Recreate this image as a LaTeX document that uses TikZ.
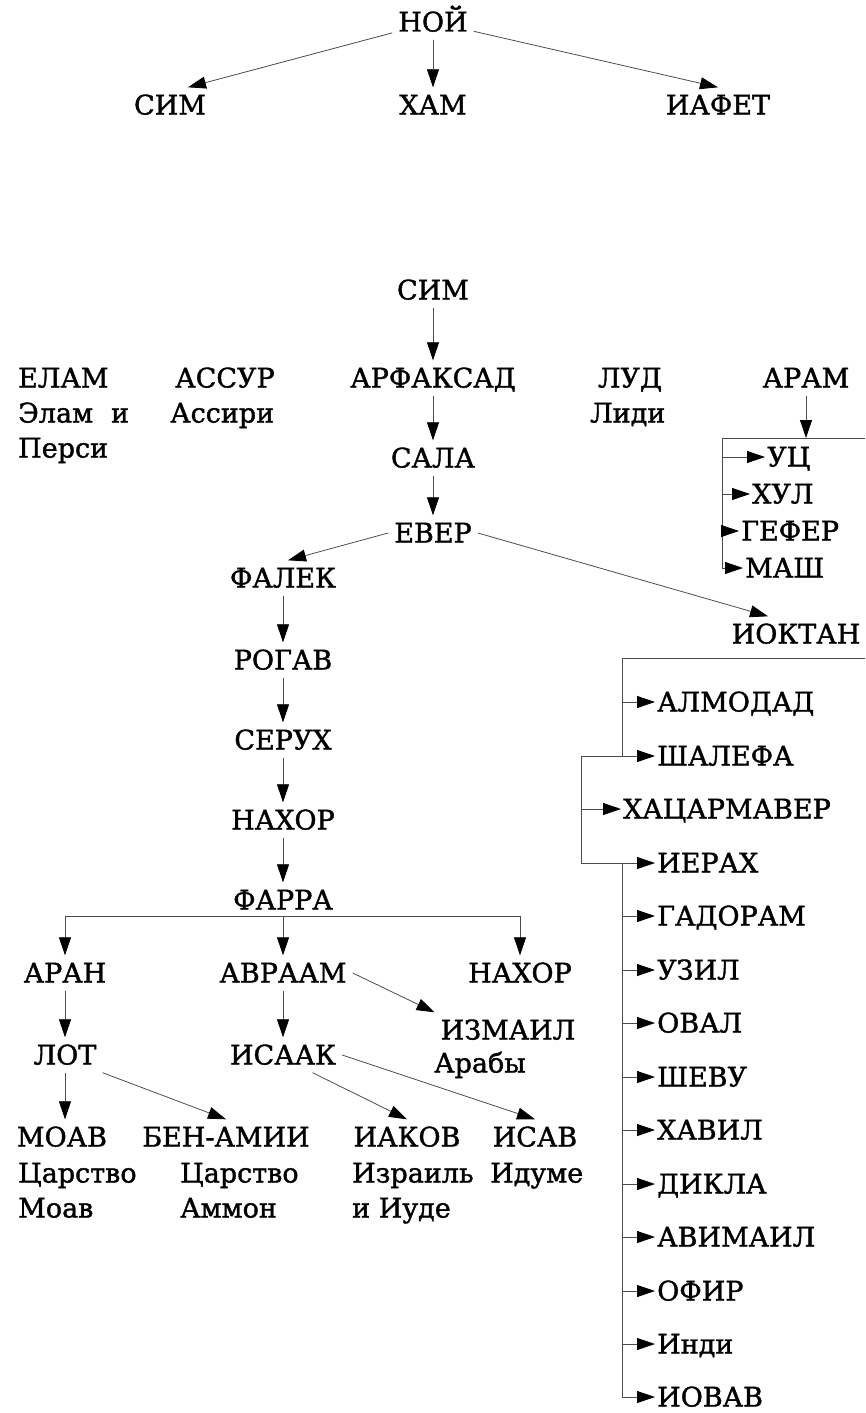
\documentclass[tikz,border=0pt]{standalone}
\usepackage{fontspec}
\setmainfont{DejaVu Serif}
\newfontfamily\treefont{DejaVu Serif}[FakeBold=1.4]
\usetikzlibrary{arrows.meta, calc}

\begin{document}
\begin{tikzpicture}[x=1pt, y=-1pt, line join=round,
    font=\treefont\fontsize{27}{32}\selectfont,
    nm/.style={inner xsep=6pt, inner ysep=7pt, text height=20pt, text depth=1pt},
    sub/.style={anchor=west, inner sep=0pt, text height=20pt, text depth=5pt},
    kid/.style={anchor=west, inner xsep=2pt, inner ysep=0pt, text height=20pt, text depth=1pt},
    ln/.style={line width=0.8pt, draw=black!70},
    arr/.style={ln, -{Triangle[length=18pt, width=12pt, color=black]}}]

    \useasboundingbox (0,0) rectangle (865,1413);

    % ==========================================
    % NOAH AND HIS SONS
    % ==========================================
    \node[nm] (noi) at (433,22) {НОЙ};
    \node[nm] (sim) at (170,105) {СИМ};
    \node[nm] (ham) at (433,105) {ХАМ};
    \node[nm] (iafet) at (718,105) {ИАФЕТ};

    \draw[arr] (noi) -- ($(sim.north)+(18,0)$);
    \draw[arr] (noi) -- (ham);
    \draw[arr] (noi) -- (iafet.north);

    % ==========================================
    % SHEM AND HIS SONS
    % ==========================================
    \node[nm] (simB) at (433,290) {СИМ};
    \node[nm, anchor=west] (elam) at (12,378) {ЕЛАМ};
    \node[nm] (assur) at (225,378) {АССУР};
    \node[nm] (arfaksad) at (433,378) {АРФАКСАД};
    \node[nm] (lud) at (630,378) {ЛУД};
    \node[nm] (aram) at (806,378) {АРАМ};

    % peoples under the names
    \node[sub] (elamP) at (18,415) {Элам\hspace{18pt}и};
    \node[sub] (persi) at (18,450) {Перси};
    \node[sub] (assiri) at (170,415) {Ассири};
    \node[sub] (lidi) at (590,415) {Лиди};

    \draw[arr] (simB) -- (arfaksad);

    % line down to Eber
    \node[nm] (sala) at (433,458) {САЛА};
    \node[nm] (ever) at (433,533) {ЕВЕР};
    \draw[arr] (arfaksad) -- (sala);
    \draw[arr] (sala) -- (ever);

    % ==========================================
    % ARAM'S SONS
    % ==========================================
    \coordinate (aramBar) at (806,438);
    \coordinate (aramL) at (722,438);
    \coordinate (aramR) at (865,438);
    \node[kid] (uts) at (765,457) {УЦ};
    \node[kid] (hul) at (750,494) {ХУЛ};
    \node[kid] (gefer) at (739,531) {ГЕФЕР};
    \node[kid] (mash) at (743,568) {МАШ};

    \draw[arr] (aram) -- (aramBar);
    \draw[ln] (aramR) -- (aramL) -- (aramL |- mash);
    \draw[arr] (aramL |- uts) -- (uts);
    \draw[arr] (aramL |- hul) -- (hul);
    \draw[arr] (aramL |- gefer) -- (gefer);
    \draw[arr] (aramL |- mash) -- (mash);

    % ==========================================
    % PELEG'S LINE
    % ==========================================
    \node[nm] (falek) at (283,578) {ФАЛЕК};
    \node[nm] (rogav) at (283,660) {РОГАВ};
    \node[nm] (serukh) at (283,740) {СЕРУХ};
    \node[nm] (nakhor) at (283,820) {НАХОР};
    \node[nm] (farra) at (283,900) {ФАРРА};

    \draw[arr] (ever.west) -- ($(falek.north)+(5,0)$);
    \draw[arr] (falek) -- (rogav);
    \draw[arr] (rogav) -- (serukh);
    \draw[arr] (serukh) -- (nakhor);
    \draw[arr] (nakhor) -- (farra);

    % Terah's sons
    \coordinate (farraBar) at (283,916);
    \node[nm] (aran) at (65,973) {АРАН};
    \node[nm] (avraam) at (283,973) {АВРААМ};
    \node[nm] (nakhorB) at (520,973) {НАХОР};

    \draw[ln] (aran |- farraBar) -- (nakhorB |- farraBar);
    \draw[arr] (aran |- farraBar) -- (aran);
    \draw[arr] (farraBar) -- (avraam);
    \draw[arr] (nakhorB |- farraBar) -- (nakhorB);

    % Abraham and Lot
    \node[nm] (izmail) at (508,1030) {ИЗМАИЛ};
    \node[sub] (araby) at (434,1065) {Арабы};
    \node[nm] (lot) at (65,1055) {ЛОТ};
    \node[nm] (isaak) at (283,1055) {ИСААК};

    \draw[arr] (avraam.east) -- (izmail.north west);
    \draw[arr] (aran) -- (lot);
    \draw[arr] (avraam) -- (isaak);

    % grandsons
    \node[nm] (moav) at (62,1137) {МОАВ};
    \node[nm] (benamii) at (226,1137) {БЕН-АМИИ};
    \node[nm] (iakov) at (407,1137) {ИАКОВ};
    \node[nm] (isav) at (535,1137) {ИСАВ};

    \draw[arr] (lot) -- (lot |- moav.north);
    \draw[arr] (lot.south east) -- (benamii.north);
    \draw[arr] ($(isaak.south)!0.5!(isaak.south east)$) -- (iakov.north);
    \draw[arr] (isaak.east) -- (isav.north);

    \node[sub] (tsMoav) at (18,1175) {Царство};
    \node[sub] (moavP) at (18,1210) {Моав};
    \node[sub] (tsAmmon) at (180,1175) {Царство};
    \node[sub] (ammon) at (180,1210) {Аммон};
    \node[sub] (izrail) at (352,1175) {Израиль};
    \node[sub] (iude) at (352,1210) {и Иуде};
    \node[sub] (idume) at (490,1175) {Идуме};

    % ==========================================
    % JOKTAN'S SONS
    % ==========================================
    \node[nm] (ioktan) at (796,634) {ИОКТАН};
    \coordinate (ioktanL) at (622,658);
    \coordinate (ioktanR) at (865,658);
    \coordinate (brk) at (581,658);

    \draw[arr] (ever.east) -- ($(ioktan.north)+(-28,0)$);

    \node[kid] (almodad) at (655,702) {АЛМОДАД};
    \node[kid] (shalefa) at (655,756) {ШАЛЕФА};
    \node[kid] (khatsar) at (621,809) {ХАЦАРМАВЕР};
    \node[kid] (ierakh) at (655,863) {ИЕРАХ};
    \node[kid] (gadoram) at (655,916) {ГАДОРАМ};
    \node[kid] (uzil) at (655,970) {УЗИЛ};
    \node[kid] (oval) at (655,1023) {ОВАЛ};
    \node[kid] (shevu) at (655,1077) {ШЕВУ};
    \node[kid] (khavil) at (655,1130) {ХАВИЛ};
    \node[kid] (dikla) at (655,1184) {ДИКЛА};
    \node[kid] (avimail) at (655,1237) {АВИМАИЛ};
    \node[kid] (ofir) at (655,1291) {ОФИР};
    \node[kid] (indi) at (655,1344) {Инди};
    \node[kid] (iovav) at (655,1397) {ИОВАВ};

    % bar and the two trunks
    \draw[ln] (ioktanR) -- (ioktanL) -- (ioktanL |- shalefa);
    \draw[ln] (ioktanL |- shalefa) -- (brk |- shalefa) -- (brk |- ierakh);
    \draw[ln] (ioktanL |- ierakh) -- (ioktanL |- iovav);

    \draw[arr] (ioktanL |- almodad) -- (almodad);
    \draw[arr] (ioktanL |- shalefa) -- (shalefa);
    \draw[arr] (brk |- khatsar) -- (khatsar);
    \draw[arr] (brk |- ierakh) -- (ierakh);
    \draw[arr] (ioktanL |- gadoram) -- (gadoram);
    \draw[arr] (ioktanL |- uzil) -- (uzil);
    \draw[arr] (ioktanL |- oval) -- (oval);
    \draw[arr] (ioktanL |- shevu) -- (shevu);
    \draw[arr] (ioktanL |- khavil) -- (khavil);
    \draw[arr] (ioktanL |- dikla) -- (dikla);
    \draw[arr] (ioktanL |- avimail) -- (avimail);
    \draw[arr] (ioktanL |- ofir) -- (ofir);
    \draw[arr] (ioktanL |- indi) -- (indi);
    \draw[arr] (ioktanL |- iovav) -- (iovav);

\end{tikzpicture}
\end{document}
